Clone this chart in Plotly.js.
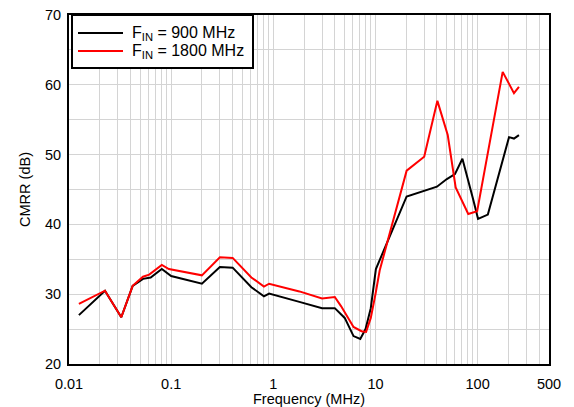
<!DOCTYPE html>
<html>
<head>
<meta charset="utf-8">
<script src="https://cdn.plot.ly/plotly-3.0.1.min.js"></script>
<style>html,body{margin:0;padding:0;background:#fff;}#chart{width:574px;height:407px;}</style>
</head>
<body>
<div id="chart"></div>
<script>
const freq900 = [0.0125, 0.0225, 0.0325, 0.042, 0.053, 0.063, 0.081, 0.1, 0.2, 0.3, 0.4, 0.61, 0.81, 0.91, 1.8, 3.0, 4.0, 5.0, 6.1, 7.1, 8.0, 9.0, 10.1, 20.2, 40, 50, 60, 71, 90, 101, 126, 203, 227, 254];
const cmrr900 = [27.0, 30.5, 26.7, 31.2, 32.2, 32.4, 33.6, 32.6, 31.5, 33.9, 33.8, 31.0, 29.7, 30.1, 28.9, 28.0, 28.0, 26.6, 24.0, 23.6, 25.0, 28.0, 33.6, 44.0, 45.4, 46.5, 47.2, 49.4, 43.7, 40.8, 41.4, 52.5, 52.3, 52.8];
const freq1800 = [0.0125, 0.0225, 0.0325, 0.042, 0.053, 0.061, 0.081, 0.095, 0.2, 0.3, 0.4, 0.61, 0.81, 0.91, 1.8, 3.0, 4.0, 4.6, 6.1, 7.3, 8.1, 9.0, 10.0, 11.0, 20.2, 30, 40.4, 51, 61, 81, 99, 176, 227, 254];
const cmrr1800 = [28.6, 30.5, 26.7, 31.2, 32.5, 32.8, 34.2, 33.6, 32.7, 35.3, 35.2, 32.4, 31.1, 31.5, 30.4, 29.4, 29.6, 28.3, 25.3, 24.7, 24.6, 26.6, 30.0, 33.4, 47.7, 49.7, 57.7, 52.8, 45.3, 41.5, 41.9, 61.85, 58.8, 59.7];
const seriesNames = ["F<sub>IN</sub> = 900 MHz", "F<sub>IN</sub> = 1800 MHz"];
const seriesColors = ['#000000', '#ff0000'];
const xLabelVals = [0.01, 0.1, 1, 10, 100, 500];
const xLabelText = ["0.01", "0.1", "1", "10", "100", "500"];

// grid positions: 1..9 x each decade up to 500
const gridVals = [];
const gridText = [];
for (let d = 0.01; d < 1000; d *= 10) {
  for (let m = 1; m <= 9; m++) {
    const v = +(m * d).toPrecision(3);
    if (v > 500) break;
    gridVals.push(v);
    const idx = xLabelVals.indexOf(v);
    gridText.push(idx >= 0 ? xLabelText[idx] : "");
  }
}
if (gridVals.indexOf(500) < 0) { gridVals.push(500); gridText.push("500"); }

const traces = [
  {x: freq900, y: cmrr900, name: seriesNames[0], type: 'scatter', mode: 'lines', line: {color: seriesColors[0], width: 2}, showlegend: false},
  {x: freq1800, y: cmrr1800, name: seriesNames[1], type: 'scatter', mode: 'lines', line: {color: seriesColors[1], width: 2}, showlegend: false}
];

// manual legend (layout in plot-area pixels: plot spans x 69..549, y 15..364)
const PL = 69, PW = 480, PT = 15, PH = 349;
const px = v => (v - PL) / PW;
const py = v => (PT + PH - v) / PH;
const shapes = [
  {type: 'rect', xref: 'paper', yref: 'paper', x0: px(72), x1: px(253), y0: py(68), y1: py(15), line: {color: '#000', width: 2}, fillcolor: '#fff', layer: 'above'}
];
const annotations = [];
const rowY = [33, 51];
seriesNames.forEach((n, i) => {
  shapes.push({type: 'line', xref: 'paper', yref: 'paper', x0: px(78), x1: px(123), y0: py(rowY[i]), y1: py(rowY[i]), line: {color: seriesColors[i], width: 2}, layer: 'above'});
  annotations.push({xref: 'paper', yref: 'paper', x: px(130), y: py(rowY[i]), xanchor: 'left', yanchor: 'middle', text: n, showarrow: false, font: {size: 16, color: '#000'}});
});

const layout = {
  width: 574, height: 407,
  margin: {l: 69, r: 25, t: 15, b: 43},
  paper_bgcolor: '#fff', plot_bgcolor: '#fff',
  font: {family: 'Liberation Sans, Arial, sans-serif', size: 14.5, color: '#000'},
  showlegend: false,
  shapes: shapes,
  annotations: annotations,
  xaxis: {
    type: 'log', range: [Math.log10(0.01), Math.log10(500)],
    tickmode: 'array', tickvals: gridVals, ticktext: gridText,
    showgrid: true, gridcolor: '#d4d4d4', gridwidth: 1,
    ticks: 'outside', ticklen: 6, tickcolor: 'rgba(0,0,0,0)',
    showline: true, linecolor: '#000', linewidth: 2, mirror: true, zeroline: false,
    title: {text: 'Frequency (MHz)', standoff: 4, font: {size: 14.5}}
  },
  yaxis: {
    range: [20, 70], dtick: 10, tick0: 20,
    showgrid: true, gridcolor: '#d4d4d4', gridwidth: 1,
    minor: {dtick: 5, showgrid: true, gridcolor: '#d4d4d4', gridwidth: 1, ticks: ''},
    ticks: 'outside', ticklen: 3, tickcolor: 'rgba(0,0,0,0)',
    showline: true, linecolor: '#000', linewidth: 2, mirror: true, zeroline: false,
    title: {text: 'CMRR (dB)', standoff: 11, font: {size: 14.5}}
  }
};

Plotly.newPlot('chart', traces, layout, {staticPlot: true, displayModeBar: false});
</script>
</body>
</html>
